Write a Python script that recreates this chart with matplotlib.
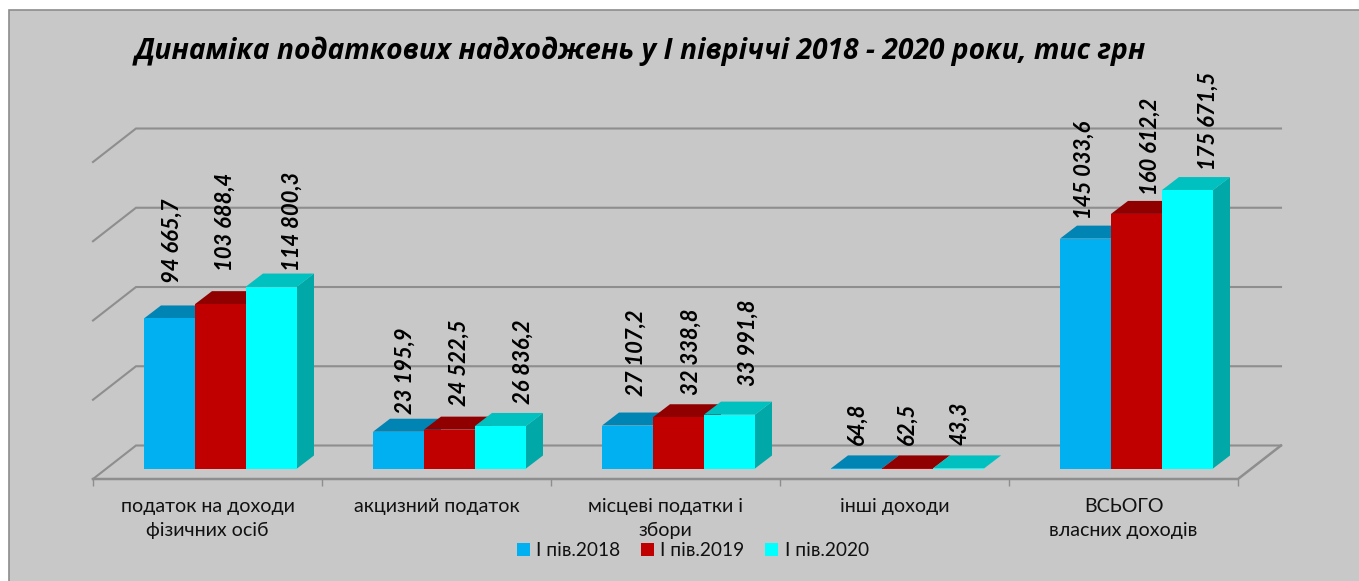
import matplotlib.pyplot as plt
from matplotlib.patches import Patch, Polygon, Rectangle

plt.rcParams['font.family'] = ['Lato', 'Open Sans', 'DejaVu Sans']

# Дані
categories = ['податок на доходи\nфізичних осіб', 'акцизний податок',
              'місцеві податки і\nзбори', 'інші доходи', 'ВСЬОГО\nвласних доходів']
series_names = ['І пів.2018', 'І пів.2019', 'І пів.2020']
v2018 = [94665.7, 23195.9, 27107.2, 64.8, 145033.6]
v2019 = [103688.4, 24522.5, 32338.8, 62.5, 160612.2]
v2020 = [114800.3, 26836.2, 33991.8, 43.3, 175671.5]
labels2018 = ['94 665,7', '23 195,9', '27 107,2', '64,8', '145 033,6']
labels2019 = ['103 688,4', '24 522,5', '32 338,8', '62,5', '160 612,2']
labels2020 = ['114 800,3', '26 836,2', '33 991,8', '43,3', '175 671,5']
grid_values = [0, 50000, 100000, 150000, 200000]

# Кольори: перед, верх, бік
front = ['#00B0F0', '#C00000', '#00FFFF']
top = ['#0084B4', '#900000', '#00C0C0']
side = ['#0084B4', '#900000', '#00A8A8']

# Зсув підписів у пікселях (підписи в оригіналі розставлені вручну)
label_dx = [[3, 7, 9, 1, -1], [5, 10, 13, 0, 14], [21, 23, 19, 1, 21]]
label_dy = [[35, 18, 30, 23, 20], [33, 24, 22, 23, 19], [16, 22, 29, 23, 20]]

W, H = 1359, 581
fig = plt.figure(figsize=(W / 100, H / 100), dpi=100, facecolor='white')
fig.add_artist(Rectangle((9 / W, -0.1), 1.1, 1.1 - 10 / H, transform=fig.transFigure,
                         facecolor='#C8C8C8', edgecolor='#8C8C8C', linewidth=1.2, zorder=-1))

ax = fig.add_axes([93 / W, (H - 479) / H, 1145 / W, 317 / H])
ax.set_xlim(0, 5)
ax.set_ylim(0, 200000)
ax.patch.set_visible(False)
for s in ax.spines.values():
    s.set_visible(False)

# скільки одиниць даних в одному пікселі
px = 5 / 1145
py = 200000 / 317

grid_c = '#8E8E8E'
depth_x, depth_y = 43 * px, 33.5 * py
for g in grid_values:
    ax.plot([0, depth_x, 5 + depth_x], [g, g + depth_y, g + depth_y], color=grid_c, lw=1.5,
            clip_on=False, zorder=1, solid_joinstyle='miter')
ax.plot([0, 5, 5 + depth_x], [0, 0, depth_y], color=grid_c, lw=1.8, clip_on=False, zorder=1)

ax.set_xticks(range(6))
ax.set_xticklabels([])
ax.tick_params(axis='x', which='major', length=5, width=1, color=grid_c)
ax.set_xticks([i + 0.5 for i in range(5)], minor=True)
ax.set_xticklabels(categories, minor=True, fontsize=14.1, color='#111111', linespacing=1.52)
ax.tick_params(axis='x', which='minor', length=0, pad=13.5)
ax.set_yticks([])

# 3D-стовпчики
w = 51 / 229
sx, sy = 13 * px, 10.5 * py
bx, by = 17 * px, 13 * py
all_vals = [v2018, v2019, v2020]
all_labels = [labels2018, labels2019, labels2020]
for k, vals in enumerate(all_vals):
    for i, v in enumerate(vals):
        x0 = i + 0.5 + sx + (k - 1.5) * w
        x1 = x0 + w
        yb = sy
        yt = sy + v
        z = 3 + k * 2
        ax.add_patch(Polygon([(x1, yb), (x1 + bx, yb + by), (x1 + bx, yt + by), (x1, yt)],
                             facecolor=side[k], edgecolor='none', clip_on=False, zorder=z))
        ax.add_patch(Polygon([(x0, yt), (x0 + bx, yt + by), (x1 + bx, yt + by), (x1, yt)],
                             facecolor=top[k], edgecolor='none', clip_on=False, zorder=z))
        ax.bar(x0, v, width=w, bottom=yb, align='edge', color=front[k], clip_on=False, zorder=z + 1)
        ax.annotate(all_labels[k][i], xy=(x0 + w / 2, yt), xytext=(label_dx[k][i], label_dy[k][i]),
                    textcoords='offset pixels', rotation=90, ha='center', va='bottom',
                    fontsize=15.8, fontweight='bold', fontstyle='italic', color='black',
                    annotation_clip=False, zorder=10)

fig.text(640 / W, 1 - 51 / H, 'Динаміка податкових надходжень у І півріччі 2018 - 2020 роки, тис грн',
         ha='center', va='center', fontsize=20.3, fontweight='bold', fontstyle='italic',
         family=['Open Sans', 'DejaVu Sans'], color='black')

handles = [Patch(facecolor=c, edgecolor='none') for c in front]
fig.legend(handles, series_names, ncol=3, loc='center', bbox_to_anchor=(693 / W, 1 - 551 / H),
           frameon=False, fontsize=13.8, handlelength=0.65, handleheight=0.65,
           handletextpad=0.35, columnspacing=1.08, labelcolor='#111111')

fig.savefig('out.png', dpi=100)
